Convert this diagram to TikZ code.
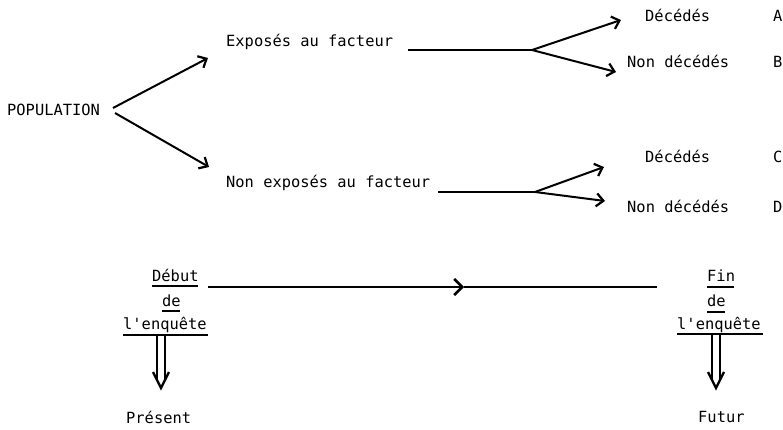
\documentclass[tikz,border=0pt]{standalone}
\usepackage{fontspec}
\newfontfamily\tw{DejaVu Sans Mono}
\usetikzlibrary{arrows.meta}
\tikzset{
  lbl/.style={anchor=base west,inner sep=0pt,font=\tw\fontsize{15.4}{18}\selectfont},
  ln/.style={line width=1.5pt},
  arr/.style={line width=2pt,-{Straight Barb[length=7pt,width=13pt,line width=2.2pt]}},
  ul/.style={line width=1.5pt},
  vee/.style={line width=2.4pt,line join=miter},
}
\begin{document}
\begin{tikzpicture}[x=1pt,y=-1pt]
\useasboundingbox (0,0) rectangle (783,430);
% text nodes
\node[lbl] (pop) at (7,116) {POPULATION};
\node[lbl] (exp) at (226,47) {Exposés au facteur};
\node[lbl] (nexp) at (226,188) {Non exposés au facteur};
\node[lbl] (decA) at (645,21.5) {Décédés};
\node[lbl] (lA) at (773,21.5) {A};
\node[lbl] (ndecB) at (627,68) {Non décédés};
\node[lbl] (lB) at (773,68) {B};
\node[lbl] (decC) at (645,163) {Décédés};
\node[lbl] (lC) at (773,163) {C};
\node[lbl] (ndecD) at (627,212) {Non décédés};
\node[lbl] (lD) at (773,212) {D};
\node[lbl] (deb1) at (152,281) {Début};
\node[lbl] (deb2) at (162,306) {de};
\node[lbl] (deb3) at (123,329.5) {l'enquête};
\node[lbl] (fin1) at (707,281) {Fin};
\node[lbl] (fin2) at (707,306) {de};
\node[lbl] (fin3) at (677,329.5) {l'enquête};
\node[lbl] (pres) at (126,423) {Présent};
\node[lbl] (fut) at (698,422) {Futur};
% coordinates
\coordinate (p1) at (113,108);
\coordinate (p2) at (115,113);
\coordinate (t1) at (208,58);
\coordinate (t2) at (209,167);
\coordinate (h1s) at (408,50);
\coordinate (h1e) at (532,50);
\coordinate (tA) at (621,20);
\coordinate (tB) at (616,72);
\coordinate (h2s) at (438,192);
\coordinate (h2e) at (535,192);
\coordinate (tC) at (604,167);
\coordinate (tD) at (605,201);
\coordinate (ts) at (208,287);
\coordinate (tm) at (464,287);
\coordinate (te) at (657,287);
% connectors
\draw[arr] (p1) -- (t1);
\draw[arr] (p2) -- (t2);
\draw[ln] (h1s) -- (h1e);
\draw[arr] (h1e) -- (tA);
\draw[arr] (h1e) -- (tB);
\draw[ln] (h2s) -- (h2e);
\draw[arr] (h2e) -- (tC);
\draw[arr] (h2e) -- (tD);
\draw[ln,-{Straight Barb[length=8pt,width=16pt,line width=2.6pt]}] (ts) -- (tm);
\draw[ln] (tm) -- (te);
% underlines
\draw[ul] (152,286) -- (198,286);
\draw[ul] (162,311) -- (180,311);
\draw[ul] (123,335) -- (208,335);
\draw[ul] (707,287) -- (734,287);
\draw[ul] (707,312) -- (725,312);
\draw[ul] (677,334) -- (763,334);
% double down arrows
\draw[ln] (157,335) -- (157,381);
\draw[ln] (165,335) -- (165,381);
\draw[vee] (153,372) -- (161,388) -- (169,372);
\draw[ln] (712,334) -- (712,381);
\draw[ln] (720,334) -- (720,381);
\draw[vee] (708,372) -- (716,388) -- (724,372);
\end{tikzpicture}
\end{document}
